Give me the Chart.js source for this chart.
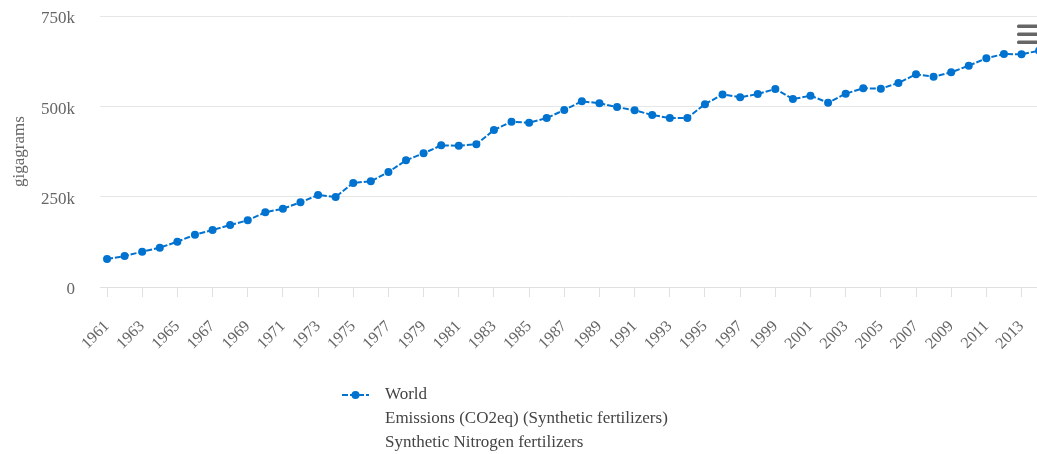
<!DOCTYPE html>
<html>
<head>
<meta charset="utf-8">
<script src="https://cdn.jsdelivr.net/npm/chart.js@4"></script>
<style>
  html, body { margin: 0; padding: 0; background: #ffffff; }
  #wrap { width: 1037px; height: 454px; position: relative; }
</style>
</head>
<body>
<div id="wrap"><canvas id="c"></canvas></div>
<script>
// ---- data ----
const years = [1961,1962,1963,1964,1965,1966,1967,1968,1969,1970,
               1971,1972,1973,1974,1975,1976,1977,1978,1979,1980,
               1981,1982,1983,1984,1985,1986,1987,1988,1989,1990,
               1991,1992,1993,1994,1995,1996,1997,1998,1999,2000,
               2001,2002,2003,2004,2005,2006,2007,2008,2009,2010,
               2011,2012,2013,2014];
const worldValues = [77500,85800,97700,108800,125400,144800,157700,171600,184600,206700,
                     216700,234400,254600,249000,288000,292700,318000,350600,370000,392000,
                     391000,395000,434500,457500,454700,467700,489800,514000,508400,498000,
                     489000,476000,467500,468000,506000,533000,525000,534000,548000,520000,
                     529500,510000,535000,550000,549000,564600,588600,582000,594000,612500,
                     632900,644900,644000,654000];
const xTickYears = [1961,1963,1965,1967,1969,1971,1973,1975,1977,1979,1981,1983,1985,1987,
                    1989,1991,1993,1995,1997,1999,2001,2003,2005,2007,2009,2011,2013];
const yTickValues = [0, 250000, 500000, 750000];
const yTickLabels = ["0", "250k", "500k", "750k"];
const seriesName = "World";
const legendExtraLines = ["Emissions (CO2eq) (Synthetic fertilizers)", "Synthetic Nitrogen fertilizers"];
const yAxisTitle = "gigagrams";

const BLUE = "#0072cf";
const SERIF = "'Liberation Serif', 'Times New Roman', serif";

const points = years.map((y, i) => ({ x: y, y: worldValues[i] }));

const extrasPlugin = {
  id: "extras",
  afterDraw(chart) {
    const ctx = chart.ctx;
    ctx.save();
    // legend symbol
    const ly = 395;
    ctx.strokeStyle = BLUE;
    ctx.lineWidth = 2;
    ctx.setLineDash([6, 2]);
    ctx.beginPath();
    ctx.moveTo(342, ly);
    ctx.lineTo(369, ly);
    ctx.stroke();
    ctx.setLineDash([]);
    ctx.fillStyle = BLUE;
    ctx.beginPath();
    ctx.arc(355.5, ly, 4, 0, Math.PI * 2);
    ctx.fill();
    // legend text
    ctx.fillStyle = "#444444";
    ctx.font = "17px " + SERIF;
    ctx.textAlign = "left";
    ctx.textBaseline = "middle";
    ctx.fillText(seriesName, 385, ly);
    legendExtraLines.forEach((t, i) => ctx.fillText(t, 385, ly + 24 * (i + 1)));
    // menu icon
    ctx.fillStyle = "#666666";
    [26, 34, 42].forEach(yy => {
      ctx.beginPath();
      ctx.roundRect(1017, yy - 1.5, 22, 3.5, 1.5);
      ctx.fill();
    });
    ctx.restore();
  }
};

new Chart(document.getElementById("c"), {
  type: "line",
  data: {
    datasets: [{
      label: seriesName,
      data: points,
      borderColor: BLUE,
      backgroundColor: BLUE,
      borderWidth: 2,
      borderDash: [6, 2],
      pointRadius: 4,
      pointHoverRadius: 5,
      pointBackgroundColor: BLUE,
      pointBorderWidth: 0,
      tension: 0,
      fill: false
    }]
  },
  plugins: [extrasPlugin],
  options: {
    responsive: true,
    maintainAspectRatio: false,
    animation: false,
    layout: { autoPadding: false, padding: { top: 16, right: 0, bottom: 87, left: 0 } },
    plugins: {
      legend: { display: false },
      tooltip: { enabled: false },
      title: { display: false }
    },
    scales: {
      x: {
        type: "linear",
        min: 1960.6,
        max: 2013.88,
        afterFit(scale) {
          scale.height = 80;
          scale.paddingLeft = 0; scale.paddingRight = 0;
          scale.paddingTop = 0; scale.paddingBottom = 0;
        },
        afterBuildTicks(scale) { scale.ticks = xTickYears.map(v => ({ value: v })); },
        grid: {
          drawOnChartArea: false,
          drawTicks: true,
          tickLength: 10,
          tickColor: "#e0e0e0",
          color: "#e0e0e0"
        },
        border: { display: true, color: "#e0e0e0", width: 1 },
        ticks: {
          autoSkip: false,
          minRotation: 45,
          maxRotation: 45,
          padding: 20,
          color: "#666666",
          font: { family: SERIF, size: 16 },
          callback: v => String(v)
        }
      },
      y: {
        min: 0,
        max: 750000,
        afterFit(scale) {
          scale.width = 100;
          scale.paddingLeft = 0; scale.paddingRight = 0;
          scale.paddingTop = 0; scale.paddingBottom = 0;
        },
        afterBuildTicks(scale) { scale.ticks = yTickValues.map(v => ({ value: v })); },
        grid: { color: "#e6e6e6", drawTicks: false, lineWidth: 1 },
        border: { display: false },
        ticks: {
          padding: 25,
          labelOffset: 3,
          color: "#666666",
          font: { family: SERIF, size: 17 },
          callback: v => yTickLabels[yTickValues.indexOf(v)]
        },
        title: {
          display: true,
          text: yAxisTitle,
          color: "#666666",
          font: { family: SERIF, size: 17 },
          padding: { top: 9, bottom: 4 }
        }
      }
    }
  }
});
</script>
</body>
</html>
